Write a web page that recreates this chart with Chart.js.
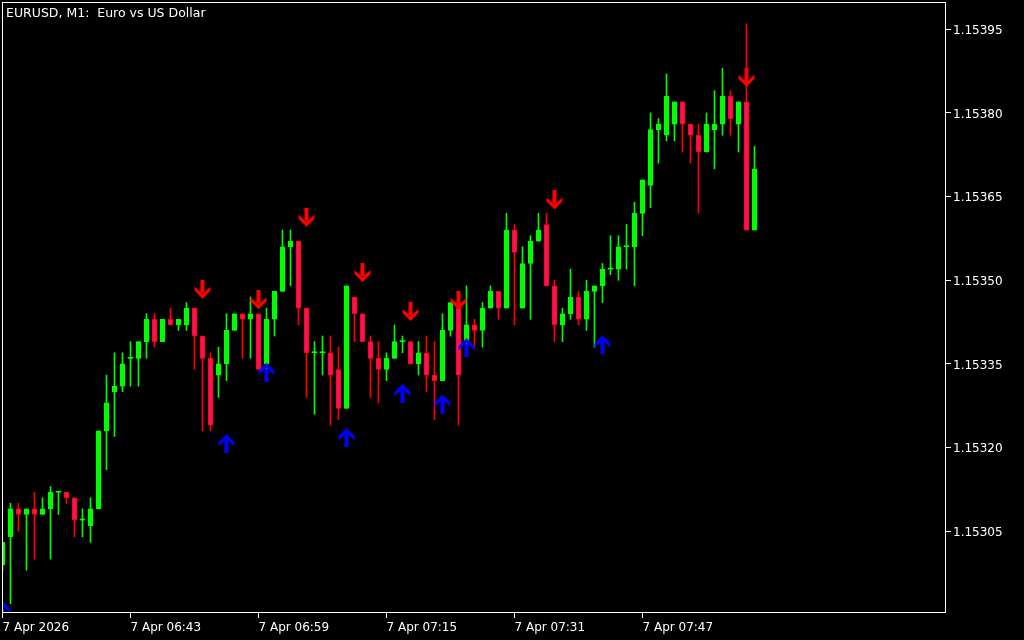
<!DOCTYPE html>
<html>
<head>
<meta charset="utf-8">
<script src="https://cdn.jsdelivr.net/npm/chart.js@4.4.1/dist/chart.umd.min.js"></script>
<style>
  html, body { margin: 0; padding: 0; background: #000; }
  #wrap { position: relative; width: 1024px; height: 640px; }
  #title { position: absolute; left: 6px; top: 5px; color: #fff; font: 12.5px "DejaVu Sans", sans-serif; white-space: pre; }
</style>
</head>
<body>
<div id="wrap">
  <canvas id="c" width="1024" height="640"></canvas>
  <div id="title">EURUSD, M1:  Euro vs US Dollar</div>
</div>
<script>
// EURUSD M1 bars, one per minute from 06:27
const opens = [
  1.15299, 1.15304, 1.15309, 1.15308, 1.15309, 1.15308, 1.15309, 1.15312, 1.15312, 1.15311,
  1.15307, 1.15306, 1.15309, 1.15323, 1.15330, 1.15331, 1.15336, 1.15336, 1.15339, 1.15343,
  1.15339, 1.15343, 1.15342, 1.15342, 1.15345, 1.15340, 1.15336, 1.15333, 1.15335, 1.15341,
  1.15344, 1.15343, 1.15344, 1.15335, 1.15343, 1.15348, 1.15356, 1.15357, 1.15345, 1.15337,
  1.15337, 1.15337, 1.15334, 1.15327, 1.15347, 1.15344, 1.15339, 1.15336, 1.15334, 1.15336,
  1.15339, 1.15339, 1.15335, 1.15337, 1.15333, 1.15332, 1.15341, 1.15345, 1.15339, 1.15342,
  1.15341, 1.15345, 1.15348, 1.15345, 1.15359, 1.15345, 1.15353, 1.15357, 1.15360, 1.15349,
  1.15342, 1.15344, 1.15347, 1.15343, 1.15348, 1.15349, 1.15352, 1.15352, 1.15356, 1.15356,
  1.15362, 1.15367, 1.15377, 1.15376, 1.15378, 1.15382, 1.15378, 1.15376, 1.15373, 1.15377,
  1.15378, 1.15383, 1.15378, 1.15382, 1.15359
];
const highs = [
  1.15303, 1.15310, 1.15310, 1.15309, 1.15312, 1.15311, 1.15313, 1.15312, 1.15312, 1.15311,
  1.15309, 1.15311, 1.15323, 1.15333, 1.15337, 1.15337, 1.15339, 1.15339, 1.15344, 1.15344,
  1.15343, 1.15345, 1.15343, 1.15346, 1.15345, 1.15340, 1.15337, 1.15338, 1.15344, 1.15344,
  1.15344, 1.15347, 1.15344, 1.15345, 1.15348, 1.15359, 1.15359, 1.15357, 1.15345, 1.15339,
  1.15340, 1.15340, 1.15338, 1.15349, 1.15347, 1.15344, 1.15340, 1.15339, 1.15337, 1.15342,
  1.15340, 1.15339, 1.15339, 1.15340, 1.15339, 1.15344, 1.15346, 1.15346, 1.15349, 1.15343,
  1.15346, 1.15349, 1.15348, 1.15362, 1.15360, 1.15356, 1.15358, 1.15362, 1.15362, 1.15350,
  1.15345, 1.15352, 1.15348, 1.15350, 1.15349, 1.15353, 1.15358, 1.15358, 1.15360, 1.15364,
  1.15368, 1.15380, 1.15379, 1.15387, 1.15382, 1.15382, 1.15378, 1.15378, 1.15380, 1.15384,
  1.15388, 1.15384, 1.15382, 1.15396, 1.15374
];
const lows = [
  1.15298, 1.15292, 1.15305, 1.15298, 1.15300, 1.15308, 1.15300, 1.15308, 1.15310, 1.15304,
  1.15304, 1.15303, 1.15309, 1.15316, 1.15322, 1.15330, 1.15331, 1.15331, 1.15336, 1.15338,
  1.15339, 1.15342, 1.15341, 1.15341, 1.15334, 1.15323, 1.15323, 1.15329, 1.15332, 1.15341,
  1.15336, 1.15336, 1.15334, 1.15333, 1.15340, 1.15348, 1.15349, 1.15342, 1.15329, 1.15326,
  1.15333, 1.15324, 1.15325, 1.15327, 1.15339, 1.15339, 1.15329, 1.15328, 1.15332, 1.15336,
  1.15337, 1.15335, 1.15333, 1.15330, 1.15325, 1.15332, 1.15340, 1.15324, 1.15338, 1.15338,
  1.15338, 1.15345, 1.15343, 1.15345, 1.15342, 1.15345, 1.15343, 1.15357, 1.15349, 1.15339,
  1.15339, 1.15343, 1.15342, 1.15341, 1.15338, 1.15346, 1.15351, 1.15350, 1.15352, 1.15349,
  1.15358, 1.15363, 1.15371, 1.15375, 1.15375, 1.15373, 1.15371, 1.15362, 1.15373, 1.15370,
  1.15376, 1.15376, 1.15373, 1.15359, 1.15359
];
const closes = [
  1.15303, 1.15309, 1.15308, 1.15309, 1.15308, 1.15309, 1.15312, 1.15312, 1.15311, 1.15307,
  1.15307, 1.15309, 1.15323, 1.15328, 1.15331, 1.15335, 1.15336, 1.15339, 1.15343, 1.15339,
  1.15343, 1.15342, 1.15343, 1.15345, 1.15340, 1.15336, 1.15324, 1.15335, 1.15341, 1.15344,
  1.15343, 1.15344, 1.15334, 1.15343, 1.15348, 1.15356, 1.15357, 1.15345, 1.15337, 1.15337,
  1.15337, 1.15333, 1.15327, 1.15349, 1.15344, 1.15339, 1.15336, 1.15334, 1.15336, 1.15339,
  1.15339, 1.15335, 1.15337, 1.15333, 1.15332, 1.15341, 1.15346, 1.15333, 1.15342, 1.15341,
  1.15345, 1.15348, 1.15345, 1.15359, 1.15355, 1.15353, 1.15357, 1.15359, 1.15349, 1.15342,
  1.15344, 1.15347, 1.15343, 1.15348, 1.15349, 1.15352, 1.15352, 1.15356, 1.15356, 1.15362,
  1.15368, 1.15377, 1.15378, 1.15383, 1.15382, 1.15378, 1.15376, 1.15373, 1.15378, 1.15378,
  1.15383, 1.15379, 1.15382, 1.15359, 1.15370
];

// signal arrows: bar index + price where the arrow sits
const sellBars   = [25, 32, 38, 45, 51, 57, 69, 93];
const sellPrices = [1.153484, 1.153465, 1.153613, 1.153514, 1.153444, 1.153464, 1.153644, 1.153864];
const buyBars    = [0, 28, 33, 43, 50, 55, 58, 75];
const buyPrices  = [1.152908, 1.153207, 1.153335, 1.153218, 1.153297, 1.153278, 1.153379, 1.153384];

const timeTicks  = [0, 16, 32, 48, 64, 80];
const timeLabels = ['7 Apr 2026', '7 Apr 06:43', '7 Apr 06:59', '7 Apr 07:15', '7 Apr 07:31', '7 Apr 07:47'];
const priceTicks = [1.15305, 1.15320, 1.15335, 1.15350, 1.15365, 1.15380, 1.15395];

const BULL      = '#00ff00';
const BEAR_FILL = '#ff105a';
const BEAR_LINE = '#ff0000';

function arrowImage( color, up ) {
    const c = document.createElement( 'canvas' );
    c.width = 17; c.height = 19;
    const g = c.getContext( '2d' );
    if ( up ) { g.translate( 0, 19 ); g.scale( 1, -1 ); }
    g.fillStyle = color;
    g.fillRect( 6.5, 0, 4, 13 );
    g.beginPath();
    g.moveTo( 0.5, 7 );
    g.lineTo( 8.5, 14 );
    g.lineTo( 16.5, 7 );
    g.lineTo( 16.5, 11 );
    g.lineTo( 8.5, 19 );
    g.lineTo( 0.5, 11 );
    g.closePath();
    g.fill();
    return c;
}

const idx  = opens.map( ( _, i ) => i );
const bull = idx.map( ( i ) => closes[ i ] >= opens[ i ] );

const framePlugin = {
    id: 'frame',
    afterDraw( chart ) {
        const { ctx, chartArea: a } = chart;
        ctx.save();
        ctx.strokeStyle = '#fff';
        ctx.lineWidth = 1;
        ctx.strokeRect( a.left + 0.5, a.top + 0.5, a.right - a.left - 1, a.bottom - a.top - 1 );
        ctx.restore();
    },
};

const font = { family: 'DejaVu Sans', size: 12 };

new Chart( document.getElementById( 'c' ), {
    type: 'bar',
    data: {
        datasets: [
            {
                label: 'wick',
                data: idx.map( ( i ) => ( { x: i, y: [ lows[ i ], highs[ i ] ] } ) ),
                backgroundColor: idx.map( ( i ) => bull[ i ] ? BULL : BEAR_LINE ),
                borderWidth: 0,
                barThickness: 1,
                grouped: false,
                order: 2,
            },
            {
                label: 'body',
                data: idx.map( ( i ) => ( { x: i, y: [ opens[ i ], closes[ i ] ] } ) ),
                backgroundColor: idx.map( ( i ) => bull[ i ] ? BULL : BEAR_FILL ),
                borderColor: idx.map( ( i ) => bull[ i ] ? BULL : BEAR_LINE ),
                borderWidth: idx.map( ( i ) => opens[ i ] === closes[ i ] ? 0 : 1 ),
                borderSkipped: false,
                barThickness: 5,
                minBarLength: 1,
                grouped: false,
                order: 1,
            },
            {
                type: 'scatter',
                label: 'sell',
                data: sellBars.map( ( b, i ) => ( { x: b, y: sellPrices[ i ] } ) ),
                pointStyle: arrowImage( '#ff0000', false ),
                order: 0,
                clip: 0,
            },
            {
                type: 'scatter',
                label: 'buy',
                data: buyBars.map( ( b, i ) => ( { x: b, y: buyPrices[ i ] } ) ),
                pointStyle: arrowImage( '#0000ff', true ),
                order: 0,
                clip: 0,
            },
        ],
    },
    options: {
        responsive: false,
        devicePixelRatio: 1,
        animation: false,
        layout: { autoPadding: false, padding: { left: 2, top: 2, right: 0, bottom: 0 } },
        plugins: { legend: { display: false }, tooltip: { enabled: false } },
        scales: {
            x: {
                type: 'linear',
                offset: false,
                min: -0.0625,
                max: 117.9375,
                afterBuildTicks: ( s ) => { s.ticks = timeTicks.map( ( v ) => ( { value: v } ) ); },
                afterFit: ( s ) => {
                    s.height = 27;
                    s.paddingLeft = 0;
                    s.paddingRight = 0;
                },
                ticks: {
                    callback: ( v, i ) => timeLabels[ i ],
                    color: '#fff',
                    font,
                    align: 'start',
                    maxRotation: 0,
                    autoSkip: false,
                    padding: 3,
                },
                grid: { offset: false, drawOnChartArea: false, drawTicks: true, tickLength: 5, color: '#fff' },
                border: { display: false },
            },
            y: {
                position: 'right',
                min: 1.1529033,
                max: 1.1539990,
                afterBuildTicks: ( s ) => { s.ticks = priceTicks.map( ( v ) => ( { value: v } ) ); },
                afterFit: ( s ) => {
                    s.width = 78;
                    s.paddingTop = 0;
                    s.paddingBottom = 0;
                },
                ticks: {
                    callback: ( v ) => v.toFixed( 5 ),
                    color: '#fff',
                    font,
                    padding: 2,
                    labelOffset: 1.5,
                },
                grid: { drawOnChartArea: false, drawTicks: true, tickLength: 5, color: '#fff' },
                border: { display: false },
            },
        },
    },
    plugins: [ framePlugin ],
} );
</script>
</body>
</html>
